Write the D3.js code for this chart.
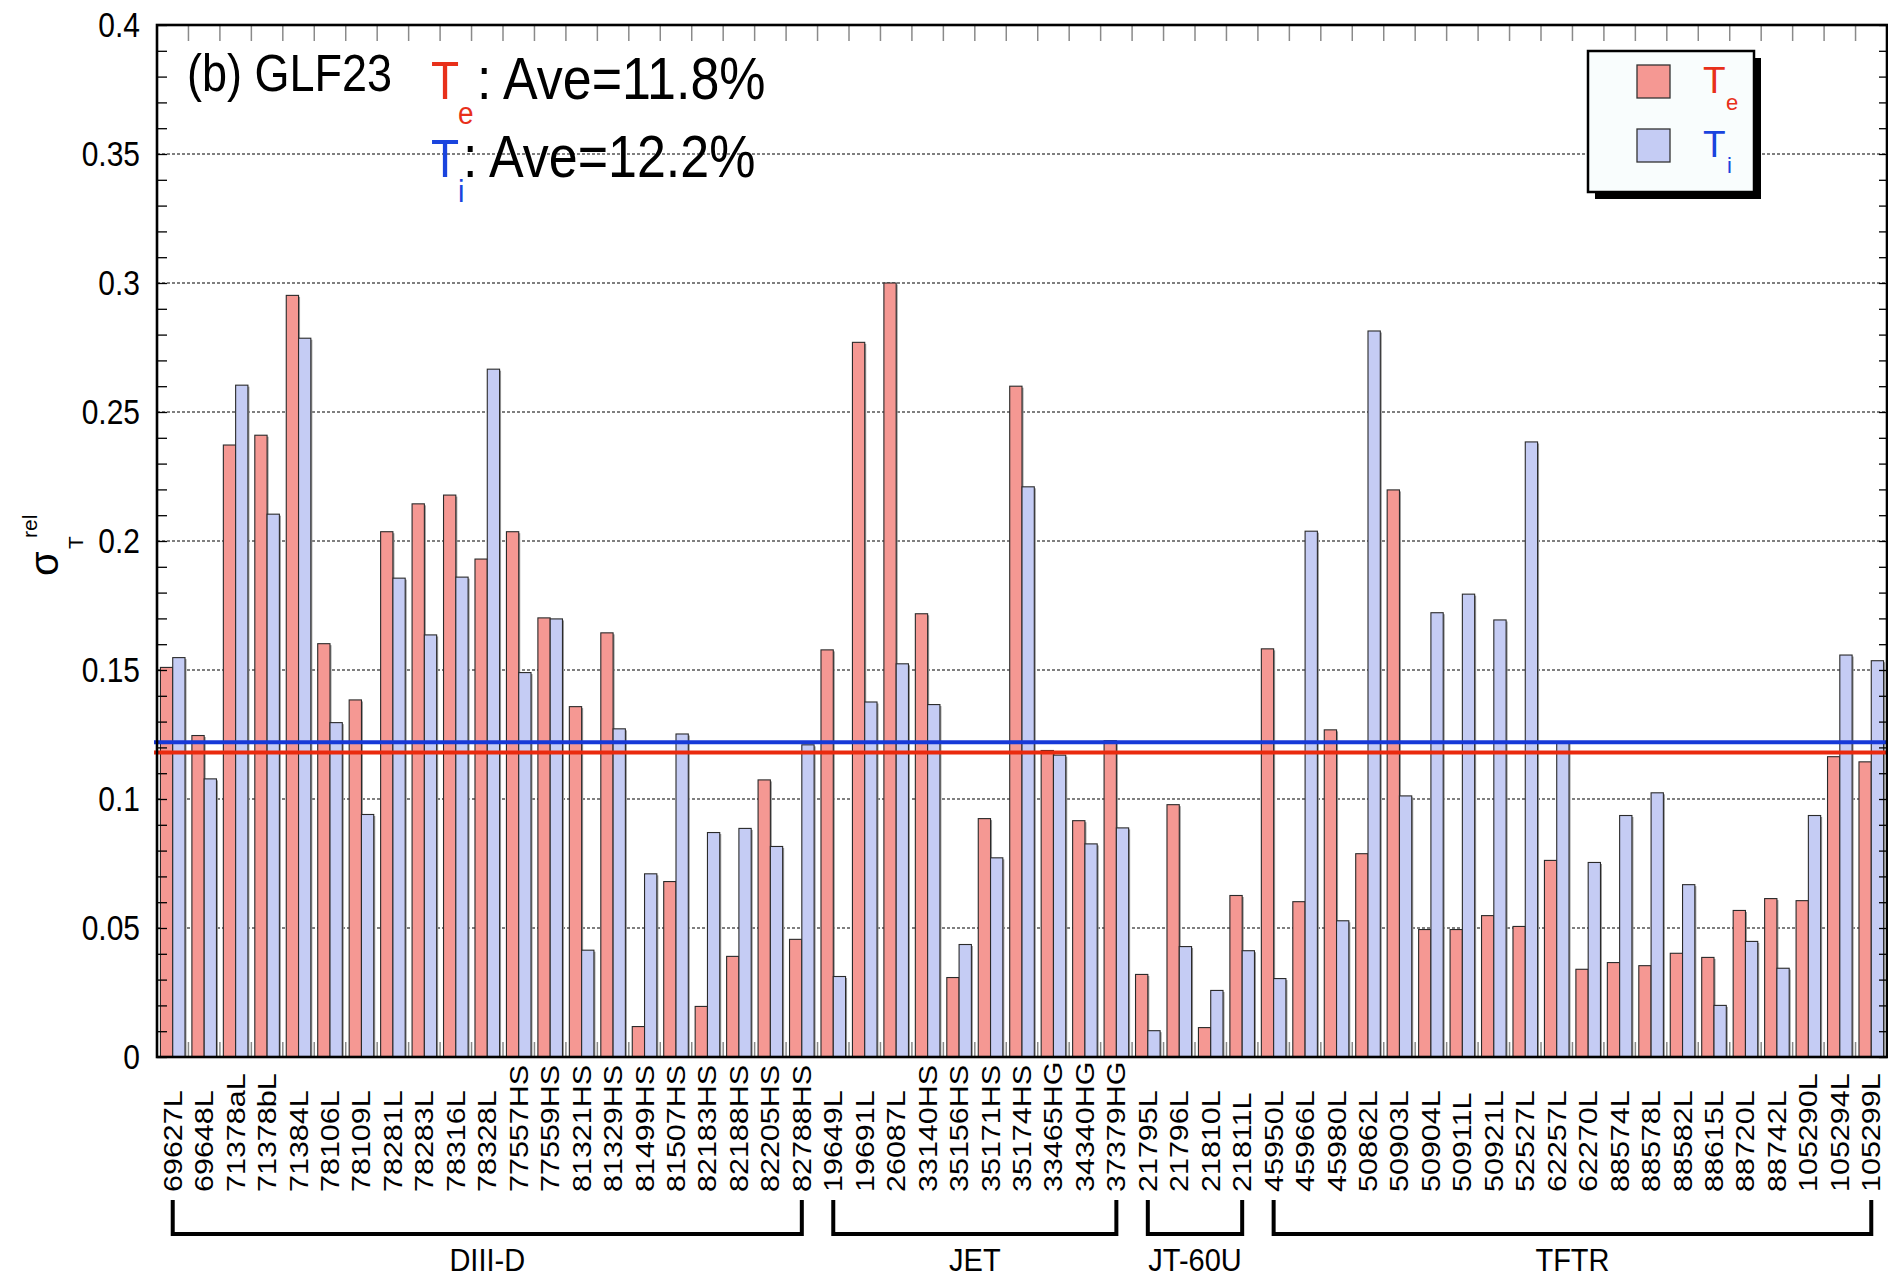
<!DOCTYPE html>
<html>
<head>
<meta charset="utf-8">
<script src="https://cdn.jsdelivr.net/npm/d3@7.9.0/dist/d3.min.js"></script>
<style>
  body { margin: 0; background: #fff; }
  svg { display: block; font-family: "Liberation Sans", Arial, Helvetica, sans-serif; }
</style>
</head>
<body>
<svg id="chart" width="1888" height="1278"></svg>
<script>
// discharges, in plotting order
const shots = [
  '69627L', '69648L', '71378aL', '71378bL', '71384L', '78106L', '78109L', '78281L', '78283L', '78316L',
  '78328L', '77557HS', '77559HS', '81321HS', '81329HS', '81499HS', '81507HS', '82183HS', '82188HS', '82205HS',
  '82788HS',
  '19649L', '19691L', '26087L', '33140HS', '35156HS', '35171HS', '35174HS', '33465HG', '34340HG', '37379HG',
  '21795L', '21796L', '21810L', '21811L',
  '45950L', '45966L', '45980L', '50862L', '50903L', '50904L', '50911L', '50921L', '52527L', '62257L',
  '62270L', '88574L', '88578L', '88582L', '88615L', '88720L', '88742L', '105290L', '105294L', '105299L'
];

// sigma_T^rel for electron temperature
const teValues = [
  0.151, 0.1246, 0.2372, 0.241, 0.2952, 0.1602, 0.1384, 0.2036, 0.2144, 0.2178,
  0.193, 0.2036, 0.1702, 0.1358, 0.1644, 0.0118, 0.068, 0.0196, 0.039, 0.1074,
  0.0456,
  0.1578, 0.277, 0.300, 0.1718, 0.0308, 0.0924, 0.260, 0.1188, 0.0916, 0.1226,
  0.032, 0.0978, 0.0114, 0.0626,
  0.1582, 0.0602, 0.1268, 0.0788, 0.2198, 0.0494, 0.0494, 0.0548, 0.0506, 0.0762,
  0.034, 0.0366, 0.0354, 0.0402, 0.0386, 0.0568, 0.0614, 0.0606, 0.1164, 0.1144
];

// sigma_T^rel for ion temperature
const tiValues = [
  0.1548, 0.1078, 0.2604, 0.2104, 0.2786, 0.1296, 0.094, 0.1856, 0.1636, 0.186,
  0.2666, 0.149, 0.1698, 0.0414, 0.1272, 0.071, 0.1252, 0.087, 0.0886, 0.0816,
  0.121,
  0.0312, 0.1376, 0.1524, 0.1366, 0.0436, 0.0772, 0.221, 0.117, 0.0826, 0.0888,
  0.0102, 0.0428, 0.0258, 0.0412,
  0.0304, 0.2038, 0.0528, 0.2814, 0.1012, 0.1722, 0.1794, 0.1694, 0.2384, 0.122,
  0.0754, 0.0936, 0.1024, 0.0668, 0.020, 0.0448, 0.0344, 0.0936, 0.1558, 0.1536
];

const groupNames = ['DIII-D', 'JET', 'JT-60U', 'TFTR'];
const groupFirst = ['69627L', '19649L', '21795L', '45950L'];
const groupLast = ['82788HS', '37379HG', '21811L', '105299L'];

const yTicks = [0, 0.05, 0.1, 0.15, 0.2, 0.25, 0.3, 0.35, 0.4];
const teAve = 0.118;
const tiAve = 0.122;

const redFill = '#f59893', blueFill = '#c5ccf4';
const redText = '#e8301a', blueText = '#1a44de';

const x0 = 157, x1 = 1887, yTop = 25, yBot = 1057;
const stretch = 1.18; // text in the original is a bit taller than normal

const svg = d3.select('#chart');

const x = d3.scaleBand().domain(shots).range([x0, x1]).padding(0);
const sub = d3.scaleBand().domain(['te', 'ti']).range([0, x.bandwidth()]).paddingInner(0).paddingOuter(0.28);
const y = d3.scaleLinear().domain([0, 0.4]).range([yBot, yTop]);

// dotted grid
svg.append('g')
  .selectAll('line')
  .data(yTicks.filter(d => d > 0 && d < 0.4))
  .join('line')
  .attr('x1', x0).attr('x2', x1)
  .attr('y1', d => y(d)).attr('y2', d => y(d))
  .attr('stroke', '#000').attr('stroke-width', 1.2)
  .attr('stroke-dasharray', '3,2');

// bars
const rows = shots.map((s, i) => ({ shot: s, te: teValues[i], ti: tiValues[i] }));
const bars = [];
rows.forEach(r => {
  bars.push({ shot: r.shot, key: 'te', v: r.te });
  bars.push({ shot: r.shot, key: 'ti', v: r.ti });
});

// little grey shadow on the right of each bar
svg.append('g')
  .selectAll('rect')
  .data(bars)
  .join('rect')
  .attr('x', d => x(d.shot) + sub(d.key) + 1.5)
  .attr('y', d => y(d.v) + 1.5)
  .attr('width', sub.bandwidth())
  .attr('height', d => yBot - y(d.v) - 1.5)
  .attr('fill', '#9a9a9a');

svg.append('g')
  .selectAll('rect')
  .data(bars)
  .join('rect')
  .attr('x', d => x(d.shot) + sub(d.key))
  .attr('y', d => y(d.v))
  .attr('width', sub.bandwidth())
  .attr('height', d => yBot - y(d.v))
  .attr('fill', d => d.key === 'te' ? redFill : blueFill)
  .attr('stroke', '#2a2a2a')
  .attr('stroke-width', 1.1);

// averages
svg.append('line')
  .attr('x1', x0 - 3).attr('x2', x1)
  .attr('y1', y(tiAve)).attr('y2', y(tiAve))
  .attr('stroke', '#1639d8').attr('stroke-width', 4);
svg.append('line')
  .attr('x1', x0 - 3).attr('x2', x1)
  .attr('y1', y(teAve)).attr('y2', y(teAve))
  .attr('stroke', '#ea2a0e').attr('stroke-width', 4);

// grey ticks on category boundaries (top and bottom)
const bounds = shots.slice(1);
svg.append('g')
  .selectAll('line')
  .data(bounds)
  .join('line')
  .attr('x1', d => x(d)).attr('x2', d => x(d))
  .attr('y1', yTop).attr('y2', yTop + 16)
  .attr('stroke', '#8a8a8a').attr('stroke-width', 1.5);
svg.append('g')
  .selectAll('line')
  .data(bounds)
  .join('line')
  .attr('x1', d => x(d)).attr('x2', d => x(d))
  .attr('y1', yBot).attr('y2', yBot - 15)
  .attr('stroke', '#8a8a8a').attr('stroke-width', 1.5);

// y minor ticks, both sides
const minor = d3.range(0, 41).map(i => i / 100);
svg.append('g')
  .attr('transform', `translate(${x0},0)`)
  .call(d3.axisLeft(y).tickValues(minor).tickSize(-10).tickFormat(''))
  .call(g => g.select('.domain').remove())
  .call(g => g.selectAll('line').attr('stroke', '#000').attr('stroke-width', 1.3));
svg.append('g')
  .attr('transform', `translate(${x1},0)`)
  .call(d3.axisRight(y).tickValues(minor).tickSize(-8).tickFormat(''))
  .call(g => g.select('.domain').remove())
  .call(g => g.selectAll('line').attr('stroke', '#000').attr('stroke-width', 1.3));

// y labels
svg.append('g')
  .attr('transform', `translate(${x0},0)`)
  .call(d3.axisLeft(y).tickValues(yTicks).tickSize(0).tickPadding(17).tickFormat(d => String(d)))
  .call(g => g.select('.domain').remove())
  .call(g => g.selectAll('text')
    .attr('font-size', 30)
    .attr('fill', '#000')
    .attr('font-family', '"Liberation Sans", Arial, sans-serif')
    .attr('transform', `scale(1,${stretch})`));

// x labels, rotated
const labelBase = 1192;
svg.append('g')
  .attr('transform', `translate(0,${yBot})`)
  .call(d3.axisBottom(x).tickSize(0))
  .call(g => g.select('.domain').remove())
  .call(g => g.selectAll('text')
    .attr('x', 0).attr('y', 0).attr('dy', '0.36em')
    .attr('font-size', 25)
    .attr('fill', '#000')
    .attr('font-family', '"Liberation Sans", Arial, sans-serif')
    .style('text-anchor', 'start')
    .attr('transform', `translate(0,${labelBase - yBot}) scale(1,1.22) rotate(-90)`));

// frame
svg.append('rect')
  .attr('x', x0).attr('y', yTop)
  .attr('width', x1 - x0).attr('height', yBot - yTop)
  .attr('fill', 'none').attr('stroke', '#000').attr('stroke-width', 2.6);

// machine brackets
const gb = svg.append('g');
groupNames.forEach((name, i) => {
  const a = x(groupFirst[i]) + x.bandwidth() / 2;
  const b = x(groupLast[i]) + x.bandwidth() / 2;
  gb.append('path')
    .attr('d', `M${a},1200V1234H${b}V1200`)
    .attr('fill', 'none').attr('stroke', '#000').attr('stroke-width', 4);
  gb.append('text')
    .attr('transform', `translate(${(a + b) / 2},1271) scale(1,1.08)`)
    .attr('text-anchor', 'middle').attr('font-size', 29)
    .text(name);
});

// y axis title: sigma_T^rel
svg.append('text').attr('transform', 'translate(58,576) rotate(-90)')
  .attr('font-size', 40).text('σ');
svg.append('text').attr('transform', 'translate(83,549) rotate(-90)')
  .attr('font-size', 21).text('T');
svg.append('text').attr('transform', 'translate(37,538) rotate(-90)')
  .attr('font-size', 21).text('rel');

// panel label and averages
svg.append('text').attr('transform', `translate(187,91) scale(1,1.15)`)
  .attr('font-size', 45).text('(b) GLF23');

svg.append('text').attr('transform', 'translate(431,99) scale(1,1.15)')
  .attr('font-size', 46).attr('fill', redText).text('T');
svg.append('text').attr('transform', 'translate(458,124) scale(1,1.1)')
  .attr('font-size', 28).attr('fill', redText).text('e');
svg.append('text').attr('transform', 'translate(477,99) scale(1,1.15)')
  .attr('font-size', 52).text(`: Ave=${(teAve * 100).toFixed(1)}%`);

svg.append('text').attr('transform', 'translate(431,177) scale(1,1.15)')
  .attr('font-size', 46).attr('fill', blueText).text('T');
svg.append('text').attr('transform', 'translate(458,202) scale(1,1.1)')
  .attr('font-size', 29).attr('fill', blueText).text('i');
svg.append('text').attr('transform', 'translate(463,177) scale(1,1.15)')
  .attr('font-size', 52).text(`: Ave=${(tiAve * 100).toFixed(1)}%`);

// legend
const lg = svg.append('g');
lg.append('rect').attr('x', 1595).attr('y', 58).attr('width', 166).attr('height', 141).attr('fill', '#000');
lg.append('rect').attr('x', 1588).attr('y', 51).attr('width', 166).attr('height', 141)
  .attr('fill', '#f9fdfd').attr('stroke', '#000').attr('stroke-width', 2.5);
lg.append('rect').attr('x', 1637).attr('y', 65).attr('width', 33).attr('height', 33)
  .attr('fill', redFill).attr('stroke', '#333').attr('stroke-width', 1.3);
lg.append('rect').attr('x', 1637).attr('y', 129).attr('width', 33).attr('height', 33)
  .attr('fill', blueFill).attr('stroke', '#333').attr('stroke-width', 1.3);
lg.append('text').attr('x', 1703).attr('y', 93).attr('font-size', 37).attr('fill', redText).text('T');
lg.append('text').attr('x', 1726).attr('y', 110).attr('font-size', 22).attr('fill', redText).text('e');
lg.append('text').attr('x', 1703).attr('y', 157).attr('font-size', 37).attr('fill', blueText).text('T');
lg.append('text').attr('x', 1727).attr('y', 173).attr('font-size', 22).attr('fill', blueText).text('i');
</script>
</body>
</html>
